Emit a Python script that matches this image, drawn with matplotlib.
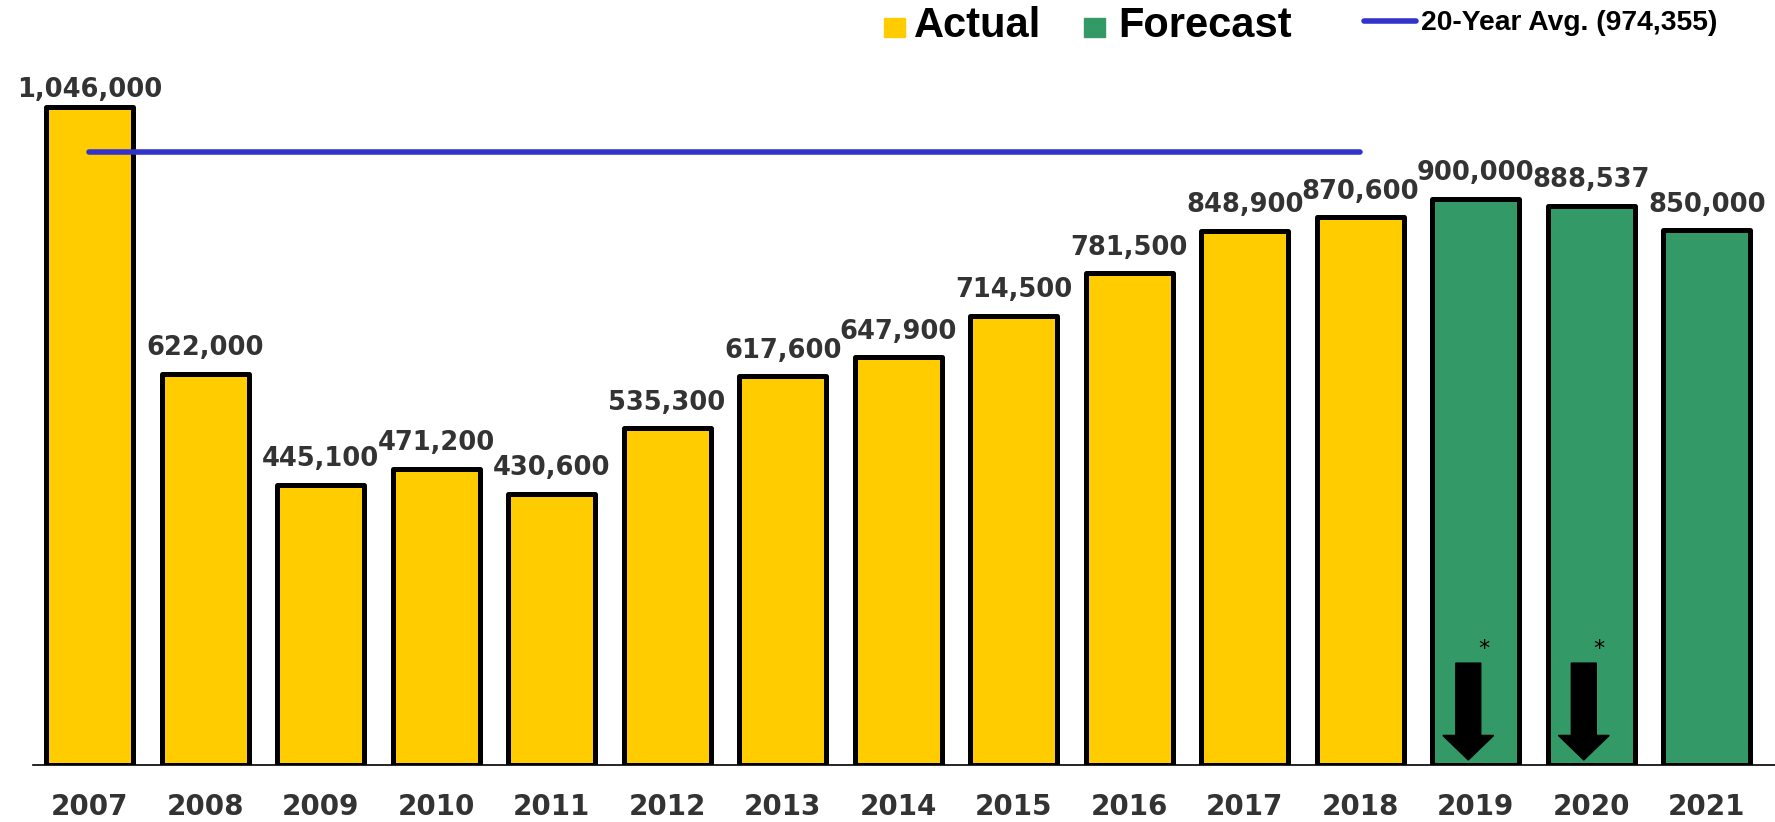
import matplotlib
matplotlib.use("Agg")
import matplotlib.pyplot as plt
from matplotlib.patches import Rectangle, FancyArrow
from matplotlib.lines import Line2D

years = ["2007", "2008", "2009", "2010", "2011", "2012", "2013", "2014",
         "2015", "2016", "2017", "2018", "2019", "2020", "2021"]
values = [1046000, 622000, 445100, 471200, 430600, 535300, 617600, 647900,
          714500, 781500, 848900, 870600, 900000, 888537, 850000]
is_forecast = [False] * 12 + [True] * 3
avg_value = 974355
avg_label = "20-Year Avg. (974,355)"
arrow_years = ["2019", "2020"]
arrow_top, arrow_tip = 162000, 8000

YELLOW = "#FFCC00"
GREEN = "#339966"
BLUE = "#3333CC"
LABEL = "#333333"

W, H = 1775, 822
fig = plt.figure(figsize=(W / 100, H / 100), dpi=100)
ax = fig.add_axes([33 / W, 57 / H, 1 - 33 / W, 765 / H])

x = list(range(len(years)))
colors = [GREEN if f else YELLOW for f in is_forecast]
bars = ax.bar(x, values, width=0.753, color=colors, edgecolor="black",
              linewidth=3.6, zorder=3)
for b in bars:
    b.set_joinstyle("round")

for xi, v in zip(x, values):
    off = 7 if xi == 0 else 13.5
    ax.annotate(f"{v:,}", (xi, v), xytext=(0, off), textcoords="offset points",
                ha="center", va="baseline", fontsize=18.5, fontweight="bold",
                color=LABEL, family="DejaVu Sans", zorder=5)

ax.plot([0, 11], [avg_value, avg_value], color=BLUE, lw=4,
        solid_capstyle="round", zorder=4)

for yr in arrow_years:
    i = years.index(yr)
    ax.add_patch(FancyArrow(i - 0.065, arrow_top, 0, -(arrow_top - arrow_tip),
                            width=0.216, head_width=0.44, head_length=39000,
                            length_includes_head=True, color="black", zorder=4))
    ax.text(i + 0.07, 184000, "*", ha="center", va="center", fontsize=16,
            color="black", zorder=5)

ax.set_xlim(-0.489, 14.59)
ax.set_ylim(0, 1216100)
ax.set_xticks(x)
ax.set_xticklabels(years, fontsize=20, fontweight="bold", color=LABEL)
ax.tick_params(axis="x", length=0, pad=20)
ax.set_yticks([])
for s in ["left", "right", "top"]:
    ax.spines[s].set_visible(False)
ax.spines["bottom"].set_linewidth(1.2)
ax.spines["bottom"].set_zorder(2)
ax.patch.set_alpha(0)

# legend
def fx(px):
    return px / W

def fy(py):
    return 1 - py / H

fig.patches.append(Rectangle((fx(884), fy(37)), 21 / W, 19 / H,
                             transform=fig.transFigure, color=YELLOW))
fig.text(fx(914), fy(37), "Actual", fontsize=30, fontweight="bold",
         family="Liberation Sans", color="black", va="baseline", ha="left")
fig.patches.append(Rectangle((fx(1084), fy(37)), 21 / W, 19 / H,
                             transform=fig.transFigure, color=GREEN))
fig.text(fx(1118), fy(37), "Forecast", fontsize=30, fontweight="bold",
         family="Liberation Sans", color="black", va="baseline", ha="left")
fig.lines.append(Line2D([fx(1364), fx(1416)], [fy(21), fy(21)],
                        transform=fig.transFigure, color=BLUE, lw=4,
                        solid_capstyle="round"))
fig.text(fx(1421), fy(30), avg_label, fontsize=20.3, fontweight="bold",
         family="Liberation Sans", color="black", va="baseline", ha="left")

fig.savefig("out.png", dpi=100)
